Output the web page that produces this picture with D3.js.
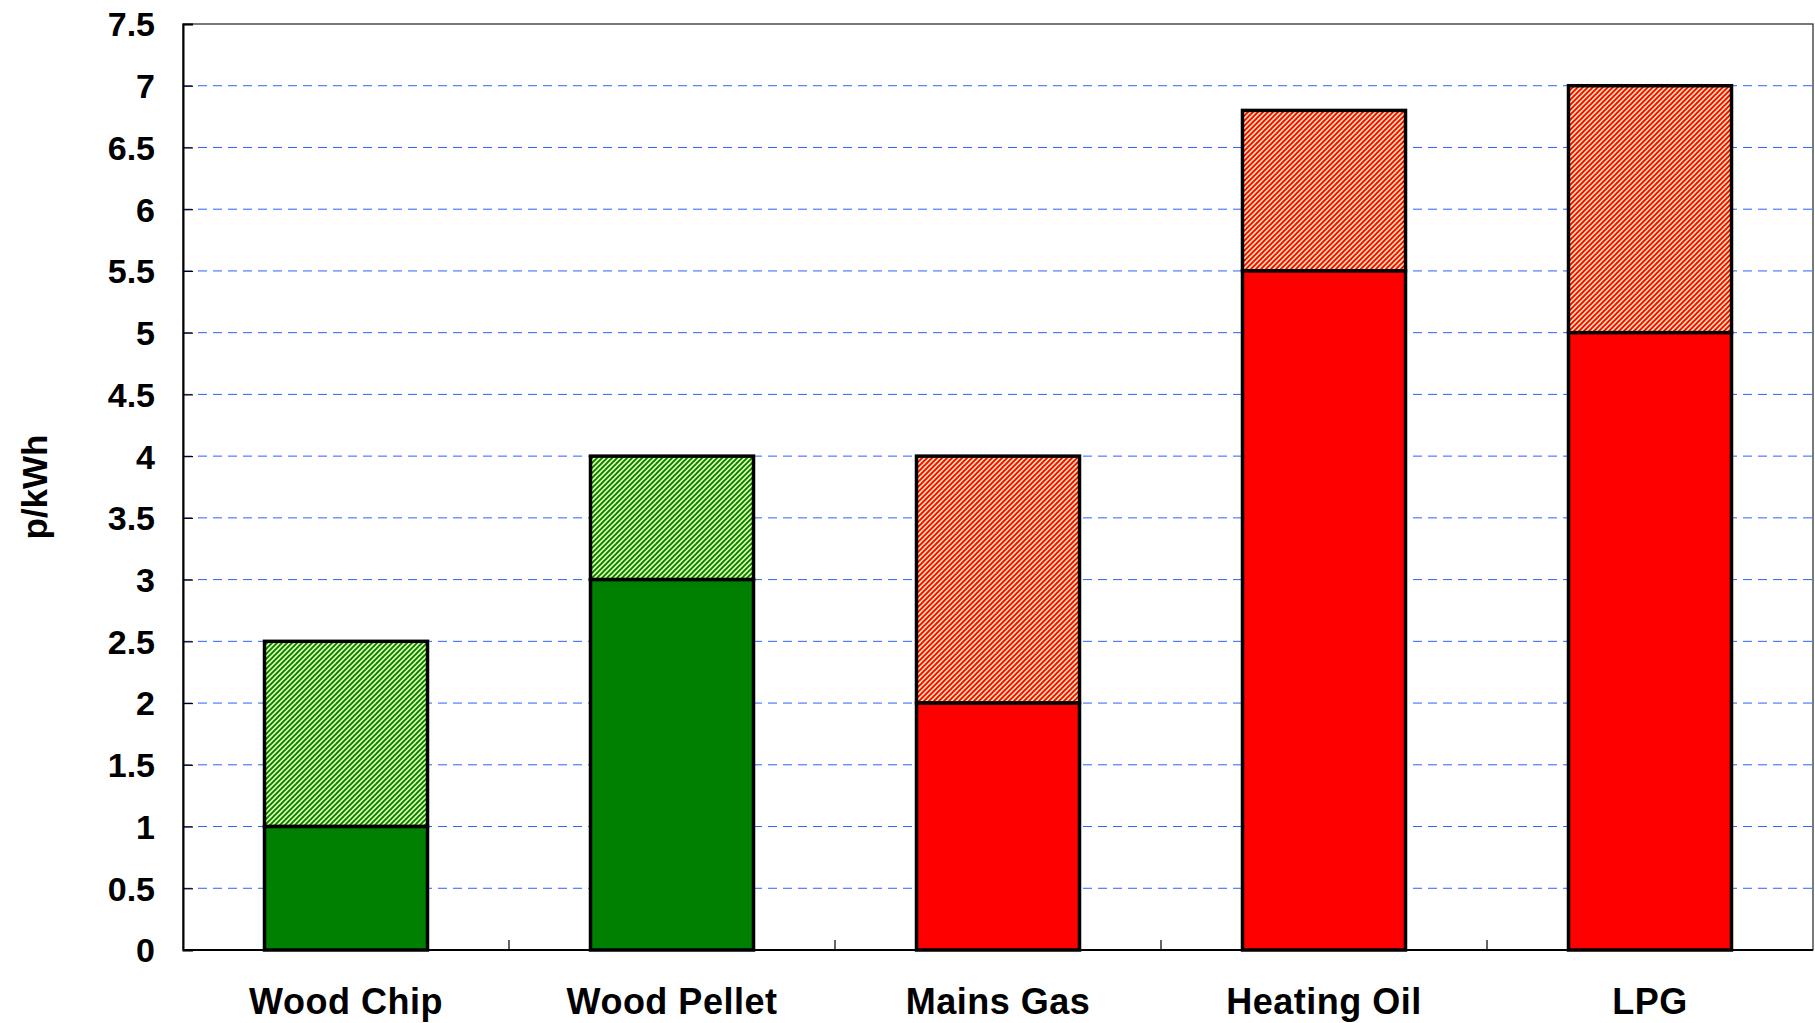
<!DOCTYPE html>
<html>
<head>
<meta charset="utf-8">
<script src="https://cdn.jsdelivr.net/npm/d3@7"></script>
<style>
  html, body { margin: 0; padding: 0; background: #fff; }
  svg { display: block; }
  text { font-family: "Liberation Sans", Arial, sans-serif; font-weight: bold; fill: #000; }
</style>
</head>
<body>
<svg id="chart" width="1815" height="1023"></svg>
<script>
// fuel cost per kWh: low (solid) and high (hatched top) estimates
const fuels = ['Wood Chip', 'Wood Pellet', 'Mains Gas', 'Heating Oil', 'LPG'];
const lowCost = [1, 3, 2, 5.5, 5];
const highCost = [2.5, 4, 4, 6.8, 7];
const renewable = [true, true, false, false, false];
const yTicks = [0, 0.5, 1, 1.5, 2, 2.5, 3, 3.5, 4, 4.5, 5, 5.5, 6, 6.5, 7, 7.5];

const W = 1815, H = 1023;
const m = { top: 24, right: 2, bottom: 73, left: 183 };

const svg = d3.select('#chart');

const x = d3.scaleBand()
    .domain(fuels)
    .range([m.left, W - m.right])
    .paddingInner(0.5)
    .paddingOuter(0.25);

const y = d3.scaleLinear()
    .domain([0, 7.5])
    .range([H - m.bottom, m.top]);

// hatch patterns (diagonal stripes like the old excel fills)
const defs = svg.append('defs');
function hatch(id, fg, bg) {
    const p = defs.append('pattern')
        .attr('id', id)
        .attr('patternUnits', 'userSpaceOnUse')
        .attr('width', 5).attr('height', 5);
    p.append('rect').attr('width', 5).attr('height', 5).attr('fill', bg);
    p.append('path')
        .attr('d', 'M-1,1 l2,-2 M0,5 l5,-5 M4,6 l2,-2')
        .attr('stroke', fg)
        .attr('stroke-width', 1.9);
}
hatch('hatch-green', '#008000', '#e4ffa8');
hatch('hatch-red', '#ff0000', '#ffe8a8');

// dashed gridlines
svg.append('g')
    .selectAll('line')
    .data(yTicks.filter(d => d > 0 && d < 7.5))
    .join('line')
    .attr('x1', m.left).attr('x2', W - m.right)
    .attr('y1', d => y(d)).attr('y2', d => y(d))
    .attr('stroke', '#2f5fff')
    .attr('stroke-width', 1)
    .attr('stroke-dasharray', '9,6');

// plot frame
svg.append('rect')
    .attr('x', m.left).attr('y', m.top)
    .attr('width', W - m.right - m.left)
    .attr('height', y(0) - m.top)
    .attr('fill', 'none')
    .attr('stroke', '#222')
    .attr('stroke-width', 1.2);

// y axis: ticks point inward
const yAxis = d3.axisLeft(y)
    .tickValues(yTicks)
    .tickSize(-10)
    .tickPadding(28)
    .tickFormat(d3.format('~g'));

const gy = svg.append('g')
    .attr('transform', `translate(${m.left},0)`)
    .call(yAxis);
gy.select('.domain').attr('stroke', '#000').attr('stroke-width', 2);
gy.selectAll('.tick line').attr('stroke', '#000').attr('stroke-width', 1.2);
gy.selectAll('.tick text')
    .attr('font-size', 34)
    .attr('dy', '0.35em')
    .attr('font-family', '"Liberation Sans", Arial, sans-serif')
    .attr('font-weight', 'bold')
    .attr('fill', '#000');

// bottom axis line and category divider ticks
svg.append('line')
    .attr('x1', m.left).attr('x2', W - m.right)
    .attr('y1', y(0)).attr('y2', y(0))
    .attr('stroke', '#000').attr('stroke-width', 2);

const step = x.step();
svg.append('g')
    .selectAll('line')
    .data(fuels.slice(1))
    .join('line')
    .attr('x1', d => x(d) - step * 0.25)
    .attr('x2', d => x(d) - step * 0.25)
    .attr('y1', y(0)).attr('y2', y(0) - 10)
    .attr('stroke', '#000').attr('stroke-width', 1.2);

// bars
const rows = fuels.map((f, i) => ({ fuel: f, low: lowCost[i], high: highCost[i], green: renewable[i] }));

const bars = svg.append('g');

bars.selectAll('.bar-high')
    .data(rows)
    .join('rect')
    .attr('class', 'bar-high')
    .attr('x', d => x(d.fuel))
    .attr('width', x.bandwidth())
    .attr('y', d => y(d.high))
    .attr('height', d => y(d.low) - y(d.high))
    .attr('fill', d => d.green ? 'url(#hatch-green)' : 'url(#hatch-red)')
    .attr('stroke', '#000')
    .attr('stroke-width', 3.5);

bars.selectAll('.bar-low')
    .data(rows)
    .join('rect')
    .attr('class', 'bar-low')
    .attr('x', d => x(d.fuel))
    .attr('width', x.bandwidth())
    .attr('y', d => y(d.low))
    .attr('height', d => y(0) - y(d.low))
    .attr('fill', d => d.green ? '#008000' : '#ff0000')
    .attr('stroke', '#000')
    .attr('stroke-width', 3.5);

// category labels
svg.append('g')
    .selectAll('text')
    .data(fuels)
    .join('text')
    .attr('x', d => x(d) + x.bandwidth() / 2)
    .attr('y', 1014)
    .attr('text-anchor', 'middle')
    .attr('font-size', 36)
    .attr('letter-spacing', 0.5)
    .text(d => d);

// y axis title
svg.append('text')
    .attr('transform', `translate(47,${(m.top + y(0)) / 2}) rotate(-90)`)
    .attr('text-anchor', 'middle')
    .attr('font-size', 35)
    .text('p/kWh');
</script>
</body>
</html>
